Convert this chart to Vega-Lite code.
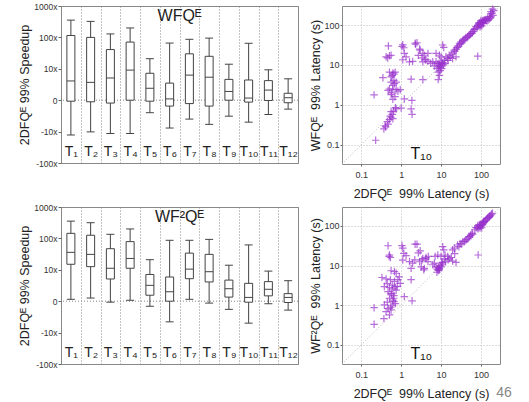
{
  "$schema": "https://vega.github.io/schema/vega-lite/v6.json",
  "padding": {"left": 18, "top": 1, "right": 0, "bottom": 0},
  "background": "white",
  "config": {
    "view": {"stroke": "#888"},
    "font": "Liberation Sans",
    "axis": {"domain": false, "labelColor": "#333", "titleColor": "#222", "titleFontWeight": "normal", "tickColor": "#666", "labelFont": "Liberation Sans", "titleFont": "Liberation Sans"},
    "title": {"font": "Liberation Sans", "fontWeight": "normal", "color": "#222"}
  },
  "datasets": {
    "box1": [
      {"t": "T₁", "lo": 0.078, "q1": 0.93, "med": 4.1, "q3": 115, "hi": 355},
      {"t": "T₂", "lo": 0.098, "q1": 0.89, "med": 3.7, "q3": 100, "hi": 324},
      {"t": "T₃", "lo": 0.087, "q1": 0.81, "med": 5.1, "q3": 41, "hi": 129},
      {"t": "T₄", "lo": 0.087, "q1": 1.0, "med": 9.1, "q3": 71, "hi": 200},
      {"t": "T₅", "lo": 0.40, "q1": 0.93, "med": 2.4, "q3": 7.2, "hi": 21},
      {"t": "T₆", "lo": 0.13, "q1": 0.65, "med": 1.1, "q3": 3.5, "hi": 66},
      {"t": "T₇", "lo": 0.25, "q1": 0.78, "med": 6.3, "q3": 30, "hi": 87},
      {"t": "T₈", "lo": 0.17, "q1": 0.65, "med": 5.4, "q3": 25, "hi": 95},
      {"t": "T₉", "lo": 0.31, "q1": 1.0, "med": 1.9, "q3": 4.6, "hi": 14},
      {"t": "T₁₀", "lo": 0.20, "q1": 0.87, "med": 1.17, "q3": 4.4, "hi": 65},
      {"t": "T₁₁", "lo": 0.35, "q1": 0.98, "med": 2.1, "q3": 4.2, "hi": 9.3},
      {"t": "T₁₂", "lo": 0.52, "q1": 0.83, "med": 1.2, "q3": 1.66, "hi": 4.8}
    ],
    "box2": [
      {"t": "T₁", "lo": 1.15, "q1": 15, "med": 36, "q3": 145, "hi": 355},
      {"t": "T₂", "lo": 1.26, "q1": 12.6, "med": 31, "q3": 126, "hi": 316},
      {"t": "T₃", "lo": 0.93, "q1": 5.1, "med": 11.2, "q3": 47, "hi": 135},
      {"t": "T₄", "lo": 1.07, "q1": 11.2, "med": 23, "q3": 79, "hi": 200},
      {"t": "T₅", "lo": 0.69, "q1": 1.55, "med": 3.2, "q3": 7.1, "hi": 21},
      {"t": "T₆", "lo": 0.22, "q1": 1.0, "med": 2.0, "q3": 5.9, "hi": 87},
      {"t": "T₇", "lo": 1.15, "q1": 5.2, "med": 10.5, "q3": 34, "hi": 87},
      {"t": "T₈", "lo": 0.87, "q1": 4.1, "med": 8.7, "q3": 31, "hi": 93},
      {"t": "T₉", "lo": 0.55, "q1": 1.35, "med": 2.5, "q3": 4.7, "hi": 14},
      {"t": "T₁₀", "lo": 0.20, "q1": 0.93, "med": 1.32, "q3": 3.7, "hi": 62},
      {"t": "T₁₁", "lo": 0.83, "q1": 1.48, "med": 2.4, "q3": 4.2, "hi": 9.1},
      {"t": "T₁₂", "lo": 0.52, "q1": 0.91, "med": 1.32, "q3": 1.74, "hi": 4.5}
    ],
    "sc1": [
      {"x":0.48,"y":30},{"x":0.42,"y":16},{"x":0.51,"y":17},{"x":0.56,"y":17.5},{"x":0.46,"y":15},{"x":1.1,"y":32},{"x":1.17,"y":27},{"x":1.2,"y":19.5},{"x":1.33,"y":16},{"x":1.1,"y":13.5},{"x":1.05,"y":29},{"x":1.62,"y":12},{"x":1.95,"y":12.3},{"x":2.24,"y":35},{"x":2.5,"y":36},{"x":2.3,"y":33},{"x":3.0,"y":23.5},{"x":2.7,"y":17.4},{"x":3.3,"y":15},{"x":4.0,"y":13.5},{"x":4.7,"y":19.5},{"x":3.5,"y":12},{"x":2.9,"y":25},
      {"x":0.51,"y":6.6},{"x":0.62,"y":6.3},{"x":0.71,"y":6.6},{"x":0.66,"y":5.9},{"x":0.35,"y":4.8},{"x":0.56,"y":5.0},{"x":0.6,"y":5.4},{"x":0.66,"y":4.1},{"x":0.75,"y":3.7},{"x":0.62,"y":3.1},{"x":0.68,"y":3.4},{"x":0.56,"y":3.7},{"x":0.51,"y":2.5},{"x":0.62,"y":2.5},{"x":0.75,"y":2.4},{"x":0.95,"y":2.4},{"x":0.47,"y":2.3},{"x":0.83,"y":2.2},{"x":0.58,"y":2.0},{"x":1.78,"y":4.4},{"x":3.5,"y":4.3},{"x":0.21,"y":1.78},{"x":0.56,"y":1.8},{"x":0.62,"y":1.38},{"x":0.7,"y":1.6},{"x":1.2,"y":1.41},{"x":1.86,"y":1.29},{"x":0.75,"y":0.79},{"x":0.56,"y":0.68},{"x":1.0,"y":0.83},{"x":1.78,"y":0.79},{"x":1.88,"y":0.58},{"x":0.56,"y":0.49},{"x":0.51,"y":0.43},{"x":0.62,"y":0.45},{"x":0.47,"y":0.33},{"x":0.41,"y":0.28},{"x":0.37,"y":0.25},{"x":0.23,"y":0.13},{"x":0.6,"y":0.58},{"x":0.65,"y":0.7},{"x":0.45,"y":0.38},{"x":0.53,"y":0.52},{"x":0.72,"y":0.85},{"x":0.4,"y":0.3},
      {"x":3.5,"y":19.5},{"x":3.8,"y":17.5},{"x":4.2,"y":13.5},{"x":4.7,"y":12.3},{"x":5.5,"y":11},{"x":6.2,"y":12},{"x":7.5,"y":19.5},{"x":9.1,"y":17.5},{"x":11,"y":31.6},{"x":11.7,"y":27.5},{"x":10,"y":16},{"x":12,"y":13},{"x":7.5,"y":12},{"x":8.3,"y":10.8},{"x":9.1,"y":9.8},{"x":10,"y":9.3},{"x":10.4,"y":8.1},{"x":7.9,"y":8.1},{"x":8.5,"y":6.6},{"x":9.1,"y":5.5},{"x":8.5,"y":4.3},{"x":9.5,"y":7.2},{"x":10.5,"y":10.5},{"x":11,"y":11.5},{"x":8.8,"y":9},{"x":9.6,"y":8.5},{"x":11.5,"y":10},{"x":12.5,"y":11},{"x":6.8,"y":9.5},{"x":10,"y":12},{"x":9,"y":11},
      {"x":13.3,"y":16},{"x":14.7,"y":14.5},{"x":16,"y":17.5},{"x":19.5,"y":14.5},{"x":23.7,"y":16},{"x":21.5,"y":23.5},{"x":18,"y":18},{"x":15,"y":13},{"x":17,"y":15.5},{"x":20,"y":20},{"x":26,"y":28},{"x":29,"y":35},{"x":31.6,"y":38},{"x":35,"y":40},{"x":38,"y":44},{"x":42,"y":49},{"x":47,"y":51},{"x":51,"y":56},{"x":56,"y":62},{"x":62,"y":68},{"x":68,"y":78},{"x":75,"y":91},{"x":83,"y":100},{"x":91,"y":110},{"x":100,"y":120},{"x":110,"y":129},{"x":120,"y":134},{"x":133,"y":138},{"x":147,"y":147},{"x":162,"y":162},{"x":178,"y":218},{"x":195,"y":250},{"x":83,"y":16.6},
      {"x":30,"y":33},{"x":33,"y":35},{"x":36,"y":42},{"x":40,"y":45},{"x":45,"y":48},{"x":50,"y":55},{"x":55,"y":60},{"x":60,"y":62},{"x":65,"y":70},{"x":70,"y":80},{"x":80,"y":85},{"x":85,"y":95},{"x":90,"y":100},{"x":95,"y":105},{"x":100,"y":100},{"x":105,"y":115},{"x":110,"y":118},{"x":115,"y":125},{"x":120,"y":128},{"x":125,"y":132},{"x":130,"y":130},{"x":140,"y":128},{"x":150,"y":130},{"x":160,"y":140},{"x":170,"y":150},{"x":180,"y":160},{"x":200,"y":175},{"x":190,"y":200},{"x":210,"y":230},{"x":175,"y":190},{"x":95,"y":90},{"x":105,"y":95},{"x":115,"y":110},{"x":100,"y":130},{"x":90,"y":115},{"x":25,"y":27},{"x":27,"y":30},{"x":22,"y":22},{"x":24,"y":25}
    ],
    "sc2": [
      {"x":0.47,"y":31.6},{"x":0.51,"y":18.5},{"x":0.54,"y":16},{"x":0.5,"y":17},{"x":1.05,"y":32},{"x":1.1,"y":27.5},{"x":1.17,"y":20.4},{"x":1.33,"y":17.8},{"x":1.1,"y":13.8},{"x":1.62,"y":12.6},{"x":2.24,"y":34.7},{"x":2.5,"y":34.7},{"x":3.0,"y":23.5},{"x":2.7,"y":21},{"x":3.3,"y":13.8},{"x":4.2,"y":14.8},{"x":4.8,"y":17},{"x":1.78,"y":8.5},{"x":1.95,"y":11.5},{"x":3.7,"y":7.8},{"x":2.2,"y":14},{"x":2.9,"y":12.5},
      {"x":0.68,"y":7.1},{"x":0.75,"y":6.4},{"x":0.56,"y":7.4},{"x":0.33,"y":5.0},{"x":0.42,"y":4.6},{"x":0.54,"y":4.4},{"x":0.68,"y":4.0},{"x":0.83,"y":4.4},{"x":0.95,"y":3.55},{"x":0.38,"y":2.95},{"x":0.51,"y":2.8},{"x":0.62,"y":2.6},{"x":0.75,"y":2.4},{"x":0.47,"y":2.2},{"x":0.56,"y":2.0},{"x":0.66,"y":1.75},{"x":0.51,"y":1.5},{"x":0.62,"y":1.35},{"x":1.2,"y":1.65},{"x":1.88,"y":1.29},{"x":0.21,"y":0.87},{"x":0.38,"y":1.02},{"x":0.47,"y":0.83},{"x":0.56,"y":0.76},{"x":0.42,"y":0.69},{"x":0.51,"y":0.57},{"x":0.37,"y":0.46},{"x":0.21,"y":0.33},{"x":0.66,"y":1.23},{"x":0.72,"y":1.1},{"x":1.78,"y":4.4},{"x":0.6,"y":3.2},{"x":0.7,"y":2.9},{"x":0.58,"y":1.9},{"x":0.45,"y":1.2},{"x":0.6,"y":1.0},{"x":0.55,"y":0.9},{"x":0.65,"y":1.5},{"x":0.8,"y":3.0},{"x":0.9,"y":5.2},{"x":0.45,"y":3.5},
      {"x":3.5,"y":15},{"x":4.2,"y":16},{"x":4.7,"y":12.6},{"x":3.2,"y":9.3},{"x":3.8,"y":8.5},{"x":7.1,"y":17},{"x":8.3,"y":18.5},{"x":11,"y":30},{"x":11.7,"y":25},{"x":10,"y":17},{"x":12,"y":14.8},{"x":12.6,"y":18.5},{"x":6.8,"y":11.5},{"x":6.2,"y":10.5},{"x":7.5,"y":9.3},{"x":8.3,"y":7.8},{"x":7.9,"y":6.8},{"x":9.1,"y":8.5},{"x":10,"y":9.3},{"x":10.4,"y":11.5},{"x":8.8,"y":7.5},{"x":9.5,"y":10},{"x":8.5,"y":9},{"x":11,"y":12},{"x":9,"y":8},{"x":10.5,"y":10.5},{"x":8,"y":8.2},
      {"x":14.7,"y":17},{"x":16,"y":15},{"x":19.5,"y":13},{"x":23.7,"y":12},{"x":19.5,"y":25},{"x":21.5,"y":27.5},{"x":26,"y":33},{"x":30,"y":36},{"x":35,"y":40},{"x":40,"y":42},{"x":47,"y":47},{"x":51,"y":54},{"x":56,"y":59},{"x":62,"y":62},{"x":75,"y":91},{"x":83,"y":102},{"x":91,"y":107},{"x":100,"y":98},{"x":110,"y":117},{"x":120,"y":129},{"x":133,"y":141},{"x":147,"y":155},{"x":162,"y":174},{"x":178,"y":190},{"x":195,"y":209},{"x":85,"y":18.5},
      {"x":28,"y":30},{"x":32,"y":35},{"x":38,"y":40},{"x":43,"y":45},{"x":50,"y":52},{"x":55,"y":58},{"x":60,"y":65},{"x":70,"y":80},{"x":80,"y":90},{"x":85,"y":85},{"x":90,"y":95},{"x":95,"y":100},{"x":100,"y":110},{"x":105,"y":105},{"x":110,"y":108},{"x":115,"y":120},{"x":120,"y":125},{"x":130,"y":135},{"x":140,"y":150},{"x":150,"y":160},{"x":160,"y":165},{"x":170,"y":180},{"x":185,"y":200},{"x":95,"y":88},{"x":105,"y":90},{"x":115,"y":130},{"x":18,"y":16},{"x":15,"y":14},{"x":22,"y":20},{"x":13,"y":12.5}
    ]
  },
  "concat": [
    {
      "width": 237, "height": 157,
      "title": {"text": "WFQᴱ", "offset": -22, "fontSize": 16, "anchor": "middle"},
      "layer": [
        {"data": {"values": [{}]}, "mark": {"type": "rule", "color": "#888", "strokeDash": [1, 2]},
         "encoding": {"y": {"datum": 1, "type": "quantitative", "scale": {"type": "log", "domain": [0.01, 1000], "nice": false}, "title": "2DFQᴱ 99% Speedup"}}},
        {"data": {"name": "box1"}, "mark": {"type": "rule", "color": "#444"},
         "encoding": {
           "x": {"field": "t", "type": "nominal", "sort": null, "scale": {"paddingInner": 0, "paddingOuter": 0},
                 "axis": {"title": null, "labelAngle": 0, "labelPadding": -12, "labelBaseline": "middle", "ticks": false, "tickSize": 0, "grid": true, "tickBand": "extent", "gridDash": [1, 2], "gridColor": "#888", "labelFontSize": 14, "labelColor": "#222", "labelOverlap": false}},
           "y": {"field": "lo", "type": "quantitative", "scale": {"type": "log", "domain": [0.01, 1000], "nice": false}, "title": "2DFQᴱ 99% Speedup",
                 "axis": {"values": [0.01, 0.1, 1, 10, 100, 1000], "labelExpr": "datum.value == 1 ? '0' : (datum.value > 1 ? format(datum.value, 'd') + 'x' : '-' + format(1 / datum.value, 'd') + 'x')", "grid": false, "tickSize": 3, "labelPadding": 1, "labelFontSize": 8.5, "titleFontSize": 12.5, "titlePadding": 2}},
           "y2": {"field": "hi"}
         }},
        {"data": {"name": "box1"}, "mark": {"type": "bar", "size": 8, "fill": "white", "stroke": "#444", "strokeWidth": 1},
         "encoding": {"x": {"field": "t", "type": "nominal", "sort": null}, "y": {"field": "q1", "type": "quantitative", "title": "2DFQᴱ 99% Speedup"}, "y2": {"field": "q3"}}},
        {"data": {"name": "box1"}, "mark": {"type": "tick", "size": 8, "thickness": 1, "color": "#444", "opacity": 1},
         "encoding": {"x": {"field": "t", "type": "nominal", "sort": null}, "y": {"field": "med", "type": "quantitative", "title": "2DFQᴱ 99% Speedup"}}},
        {"data": {"name": "box1"}, "mark": {"type": "tick", "size": 8, "thickness": 1, "color": "#444", "opacity": 1},
         "encoding": {"x": {"field": "t", "type": "nominal", "sort": null}, "y": {"field": "lo", "type": "quantitative", "title": "2DFQᴱ 99% Speedup"}}},
        {"data": {"name": "box1"}, "mark": {"type": "tick", "size": 8, "thickness": 1, "color": "#444", "opacity": 1},
         "encoding": {"x": {"field": "t", "type": "nominal", "sort": null}, "y": {"field": "hi", "type": "quantitative", "title": "2DFQᴱ 99% Speedup"}}}
      ]
    },
    {
      "width": 158, "height": 158,
      "layer": [
        {"data": {"values": [{}]}, "mark": {"type": "rule", "color": "#bbb", "strokeDash": [1, 2]},
         "encoding": {"x": {"datum": 0.033, "type": "quantitative", "scale": {"type": "log", "domain": [0.033, 300], "nice": false}}, "y": {"datum": 0.033, "type": "quantitative", "scale": {"type": "log", "domain": [0.033, 300], "nice": false}}, "x2": {"datum": 300}, "y2": {"datum": 300}}},
        {"data": {"name": "sc1"}, "mark": {"type": "point", "shape": "M-1,0L1,0M0,-1L0,1", "filled": false, "stroke": "#9932cc", "strokeWidth": 1.2, "size": 56, "opacity": 0.7},
         "encoding": {
           "x": {"field": "x", "type": "quantitative", "title": "2DFQᴱ\u00a0 99% Latency (s)", "axis": {"values": [0.1, 1, 10, 100], "format": "~g", "grid": true, "gridDash": [1, 2], "gridColor": "#bbb", "tickSize": 2, "labelPadding": 4, "labelFontSize": 9, "titleFontSize": 12.5, "titlePadding": 8}},
           "y": {"field": "y", "type": "quantitative", "title": "WFQᴱ\u00a0 99% Latency (s)", "axis": {"values": [0.1, 1, 10, 100], "format": "~g", "grid": true, "gridDash": [1, 2], "gridColor": "#bbb", "tickSize": 2, "labelPadding": 1, "labelFontSize": 9, "titleFontSize": 12.5, "titlePadding": 1}}
         }},
        {"data": {"values": [{}]}, "mark": {"type": "text", "text": "T₁₀", "fontSize": 16, "color": "#111"},
         "encoding": {"x": {"datum": 3.2, "type": "quantitative"}, "y": {"datum": 0.06, "type": "quantitative"}}}
      ]
    },
    {
      "width": 237, "height": 157,
      "title": {"text": "WF²Qᴱ", "offset": -22, "fontSize": 16, "anchor": "middle"},
      "layer": [
        {"data": {"values": [{}]}, "mark": {"type": "rule", "color": "#888", "strokeDash": [1, 2]},
         "encoding": {"y": {"datum": 1, "type": "quantitative", "scale": {"type": "log", "domain": [0.01, 1000], "nice": false}, "title": "2DFQᴱ 99% Speedup"}}},
        {"data": {"name": "box2"}, "mark": {"type": "rule", "color": "#444"},
         "encoding": {
           "x": {"field": "t", "type": "nominal", "sort": null, "scale": {"paddingInner": 0, "paddingOuter": 0},
                 "axis": {"title": null, "labelAngle": 0, "labelPadding": -12, "labelBaseline": "middle", "ticks": false, "tickSize": 0, "grid": true, "tickBand": "extent", "gridDash": [1, 2], "gridColor": "#888", "labelFontSize": 14, "labelColor": "#222", "labelOverlap": false}},
           "y": {"field": "lo", "type": "quantitative", "scale": {"type": "log", "domain": [0.01, 1000], "nice": false}, "title": "2DFQᴱ 99% Speedup",
                 "axis": {"values": [0.01, 0.1, 1, 10, 100, 1000], "labelExpr": "datum.value == 1 ? '0' : (datum.value > 1 ? format(datum.value, 'd') + 'x' : '-' + format(1 / datum.value, 'd') + 'x')", "grid": false, "tickSize": 3, "labelPadding": 1, "labelFontSize": 8.5, "titleFontSize": 12.5, "titlePadding": 2}},
           "y2": {"field": "hi"}
         }},
        {"data": {"name": "box2"}, "mark": {"type": "bar", "size": 8, "fill": "white", "stroke": "#444", "strokeWidth": 1},
         "encoding": {"x": {"field": "t", "type": "nominal", "sort": null}, "y": {"field": "q1", "type": "quantitative", "title": "2DFQᴱ 99% Speedup"}, "y2": {"field": "q3"}}},
        {"data": {"name": "box2"}, "mark": {"type": "tick", "size": 8, "thickness": 1, "color": "#444", "opacity": 1},
         "encoding": {"x": {"field": "t", "type": "nominal", "sort": null}, "y": {"field": "med", "type": "quantitative", "title": "2DFQᴱ 99% Speedup"}}},
        {"data": {"name": "box2"}, "mark": {"type": "tick", "size": 8, "thickness": 1, "color": "#444", "opacity": 1},
         "encoding": {"x": {"field": "t", "type": "nominal", "sort": null}, "y": {"field": "lo", "type": "quantitative", "title": "2DFQᴱ 99% Speedup"}}},
        {"data": {"name": "box2"}, "mark": {"type": "tick", "size": 8, "thickness": 1, "color": "#444", "opacity": 1},
         "encoding": {"x": {"field": "t", "type": "nominal", "sort": null}, "y": {"field": "hi", "type": "quantitative", "title": "2DFQᴱ 99% Speedup"}}}
      ]
    },
    {
      "width": 158, "height": 157,
      "layer": [
        {"data": {"values": [{}]}, "mark": {"type": "rule", "color": "#bbb", "strokeDash": [1, 2]},
         "encoding": {"x": {"datum": 0.033, "type": "quantitative", "scale": {"type": "log", "domain": [0.033, 300], "nice": false}}, "y": {"datum": 0.033, "type": "quantitative", "scale": {"type": "log", "domain": [0.033, 300], "nice": false}}, "x2": {"datum": 300}, "y2": {"datum": 300}}},
        {"data": {"name": "sc2"}, "mark": {"type": "point", "shape": "M-1,0L1,0M0,-1L0,1", "filled": false, "stroke": "#9932cc", "strokeWidth": 1.2, "size": 56, "opacity": 0.7},
         "encoding": {
           "x": {"field": "x", "type": "quantitative", "title": "2DFQᴱ\u00a0 99% Latency (s)", "axis": {"values": [0.1, 1, 10, 100], "format": "~g", "grid": true, "gridDash": [1, 2], "gridColor": "#bbb", "tickSize": 2, "labelPadding": 4, "labelFontSize": 9, "titleFontSize": 12.5, "titlePadding": 8}},
           "y": {"field": "y", "type": "quantitative", "title": "WF²Qᴱ\u00a0 99% Latency (s)", "axis": {"values": [0.1, 1, 10, 100], "format": "~g", "grid": true, "gridDash": [1, 2], "gridColor": "#bbb", "tickSize": 2, "labelPadding": 1, "labelFontSize": 9, "titleFontSize": 12.5, "titlePadding": 1}}
         }},
        {"data": {"values": [{}]}, "mark": {"type": "text", "text": "T₁₀", "fontSize": 16, "color": "#111"},
         "encoding": {"x": {"datum": 3.2, "type": "quantitative"}, "y": {"datum": 0.06, "type": "quantitative"}}},
        {"data": {"values": [{}]}, "mark": {"type": "text", "text": "46", "fontSize": 14, "color": "#888"},
         "encoding": {"x": {"datum": 376, "type": "quantitative"}, "y": {"datum": 0.006, "type": "quantitative"}}}
      ]
    }
  ],
  "columns": 2,
  "bounds": "flush",
  "spacing": {"row": 43, "column": 44}
}
